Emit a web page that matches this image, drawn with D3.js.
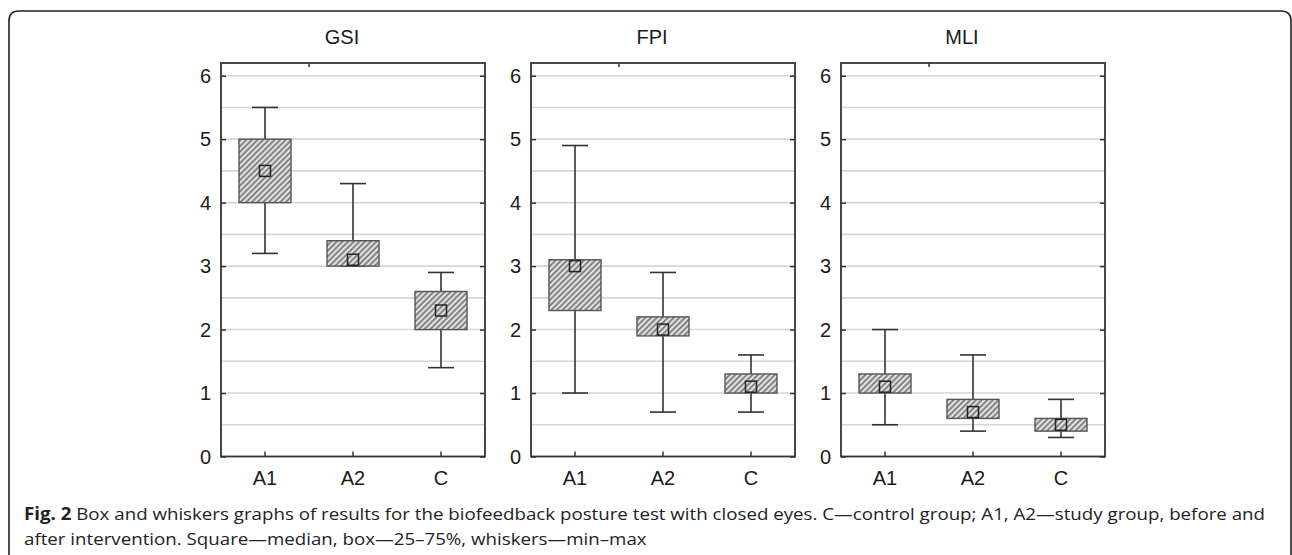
<!DOCTYPE html>
<html>
<head>
<meta charset="utf-8">
<script src="https://cdn.jsdelivr.net/npm/d3@7"></script>
<style>
  body { margin: 0; background: #fff; }
</style>
</head>
<body>
<div id="sketchpad"></div>
<script>
// groups and panels
let groups = ["A1", "A2", "C"]
let panels = ["GSI", "FPI", "MLI"]
let yTicks = [0, 1, 2, 3, 4, 5, 6]

// box stats per panel, in group order A1, A2, C
let gsiMin = [3.2, 3.0, 1.4]
let gsiQ1 = [4.0, 3.0, 2.0]
let gsiMed = [4.5, 3.1, 2.3]
let gsiQ3 = [5.0, 3.4, 2.6]
let gsiMax = [5.5, 4.3, 2.9]

let fpiMin = [1.0, 0.7, 0.7]
let fpiQ1 = [2.3, 1.9, 1.0]
let fpiMed = [3.0, 2.0, 1.1]
let fpiQ3 = [3.1, 2.2, 1.3]
let fpiMax = [4.9, 2.9, 1.6]

let mliMin = [0.5, 0.4, 0.3]
let mliQ1 = [1.0, 0.6, 0.4]
let mliMed = [1.1, 0.7, 0.5]
let mliQ3 = [1.3, 0.9, 0.6]
let mliMax = [2.0, 1.6, 0.9]

let stats = {
  GSI: [gsiMin, gsiQ1, gsiMed, gsiQ3, gsiMax],
  FPI: [fpiMin, fpiQ1, fpiMed, fpiQ3, fpiMax],
  MLI: [mliMin, mliQ1, mliMed, mliQ3, mliMax]
}

let captionBold = "Fig. 2"
let caption1 = " Box and whiskers graphs of results for the biofeedback posture test with closed eyes. C\u2014control group; A1, A2\u2014study group, before and"
let caption2 = "after intervention. Square\u2014median, box\u201425\u201375%, whiskers\u2014min\u2013max"

let W = 1292, H = 555
let svg = d3.select("#sketchpad")
  .append("svg")
  .attr("width", W)
  .attr("height", H)

let defs = svg.append("defs")
let pat = defs.append("pattern")
  .attr("id", "hatch")
  .attr("patternUnits", "userSpaceOnUse")
  .attr("width", 4)
  .attr("height", 4)
  .attr("patternTransform", "rotate(45)")
pat.append("rect").attr("width", 4).attr("height", 4).attr("fill", "#e2e2e2")
pat.append("rect").attr("width", 2).attr("height", 4).attr("fill", "#858585")

// outer frame, rounded on top
svg.append("path")
  .attr("d", "M9,560 L9,21 Q9,11 19,11 L1281,11 Q1291,11 1291,21 L1291,560")
  .attr("fill", "none")
  .attr("stroke", "#222")
  .attr("stroke-width", 1.6)

let y = d3.scaleLinear().domain([0, 6.2]).range([456.5, 63])
let lefts = [221, 531, 841]
let pw = 264
let font = "'Liberation Sans', Arial, sans-serif"

panels.forEach((name, pi) => {
  let x0 = lefts[pi]
  let x = d3.scaleBand().domain(groups).range([x0, x0 + pw])
  let cx = d => x(d) + x.bandwidth() / 2
  let g = svg.append("g")
  let s = stats[name]

  // grid every 0.5
  g.selectAll(".grid")
    .data(d3.range(1, 13).map(d => d / 2))
    .join("line")
    .attr("x1", x0).attr("x2", x0 + pw)
    .attr("y1", d => y(d)).attr("y2", d => y(d))
    .attr("stroke", "#d6d6d6")
    .attr("stroke-width", 1.6)

  // frame
  g.append("rect")
    .attr("x", x0).attr("y", y(6.2))
    .attr("width", pw).attr("height", y(0) - y(6.2))
    .attr("fill", "none")
    .attr("stroke", "#333")
    .attr("stroke-width", 1.8)

  // ticks inward
  let la = d3.axisRight(y).tickValues(yTicks).tickSize(5).tickFormat("")
  let ra = d3.axisLeft(y).tickValues(yTicks).tickSize(5).tickFormat("")
  g.append("g").attr("transform", `translate(${x0},0)`).call(la)
  g.append("g").attr("transform", `translate(${x0 + pw},0)`).call(ra)
  let ba = d3.axisTop(x).tickSize(5).tickFormat("")
  g.append("g").attr("transform", `translate(0,${y(0)})`).call(ba)
  g.append("line")
    .attr("x1", x0 + x.step()).attr("x2", x0 + x.step())
    .attr("y1", y(6.2)).attr("y2", y(6.2) + 4)
    .attr("stroke", "#333").attr("stroke-width", 1.5)
  g.selectAll(".domain").remove()
  g.selectAll(".tick line").attr("stroke", "#333").attr("stroke-width", 1.5)

  // y labels
  g.selectAll(".ylab")
    .data(yTicks)
    .join("text")
    .attr("x", x0 - 10)
    .attr("y", d => y(d) + 7)
    .attr("text-anchor", "end")
    .attr("font-family", font)
    .attr("font-size", 20)
    .attr("fill", "#1a1a1a")
    .text(d => d)

  // x labels
  g.selectAll(".xlab")
    .data(groups)
    .join("text")
    .attr("x", d => cx(d))
    .attr("y", 485)
    .attr("text-anchor", "middle")
    .attr("font-family", font)
    .attr("font-size", 20)
    .attr("fill", "#1a1a1a")
    .text(d => d)

  // title
  g.append("text")
    .attr("x", x0 + pw / 2 - 11)
    .attr("y", 44)
    .attr("text-anchor", "middle")
    .attr("font-family", font)
    .attr("font-size", 20)
    .attr("fill", "#1a1a1a")
    .text(name)

  let bw = 52, cap = 26, sq = 11
  groups.forEach((grp, i) => {
    let c = cx(grp)
    let [mn, q1, md, q3, mx] = s.map(a => a[i])
    // whiskers
    g.append("line").attr("x1", c).attr("x2", c).attr("y1", y(q3)).attr("y2", y(mx))
      .attr("stroke", "#333").attr("stroke-width", 1.6)
    g.append("line").attr("x1", c).attr("x2", c).attr("y1", y(q1)).attr("y2", y(mn))
      .attr("stroke", "#333").attr("stroke-width", 1.6)
    g.append("line").attr("x1", c - cap / 2).attr("x2", c + cap / 2).attr("y1", y(mx)).attr("y2", y(mx))
      .attr("stroke", "#333").attr("stroke-width", 1.6)
    g.append("line").attr("x1", c - cap / 2).attr("x2", c + cap / 2).attr("y1", y(mn)).attr("y2", y(mn))
      .attr("stroke", "#333").attr("stroke-width", 1.6)
    // box
    g.append("rect")
      .attr("x", c - bw / 2).attr("y", y(q3))
      .attr("width", bw).attr("height", Math.max(y(q1) - y(q3), 1))
      .attr("fill", "url(#hatch)")
      .attr("stroke", "#555")
      .attr("stroke-width", 1.4)
    // median square
    g.append("rect")
      .attr("x", c - sq / 2).attr("y", y(md) - sq / 2)
      .attr("width", sq).attr("height", sq)
      .attr("fill", "none")
      .attr("stroke", "#222")
      .attr("stroke-width", 1.5)
  })
})

// caption
let capFont = "'Open Sans', sans-serif"
let t1 = svg.append("text")
  .attr("x", 24).attr("y", 520)
  .attr("font-family", capFont)
  .attr("font-size", 17)
  .attr("fill", "#222")
t1.append("tspan").attr("font-weight", "bold").text(captionBold)
t1.append("tspan").text(caption1)

let t2 = svg.append("text")
  .attr("x", 24).attr("y", 545)
  .attr("font-family", capFont)
  .attr("font-size", 17)
  .attr("fill", "#222")
  .text(caption2)

// squeeze both lines by the same factor so line 1 ends where it does in the figure
let k = 1241 / t1.node().getComputedTextLength()
t1.attr("textLength", 1241).attr("lengthAdjust", "spacingAndGlyphs")
t2.attr("textLength", t2.node().getComputedTextLength() * k).attr("lengthAdjust", "spacingAndGlyphs")
</script>
</body>
</html>
